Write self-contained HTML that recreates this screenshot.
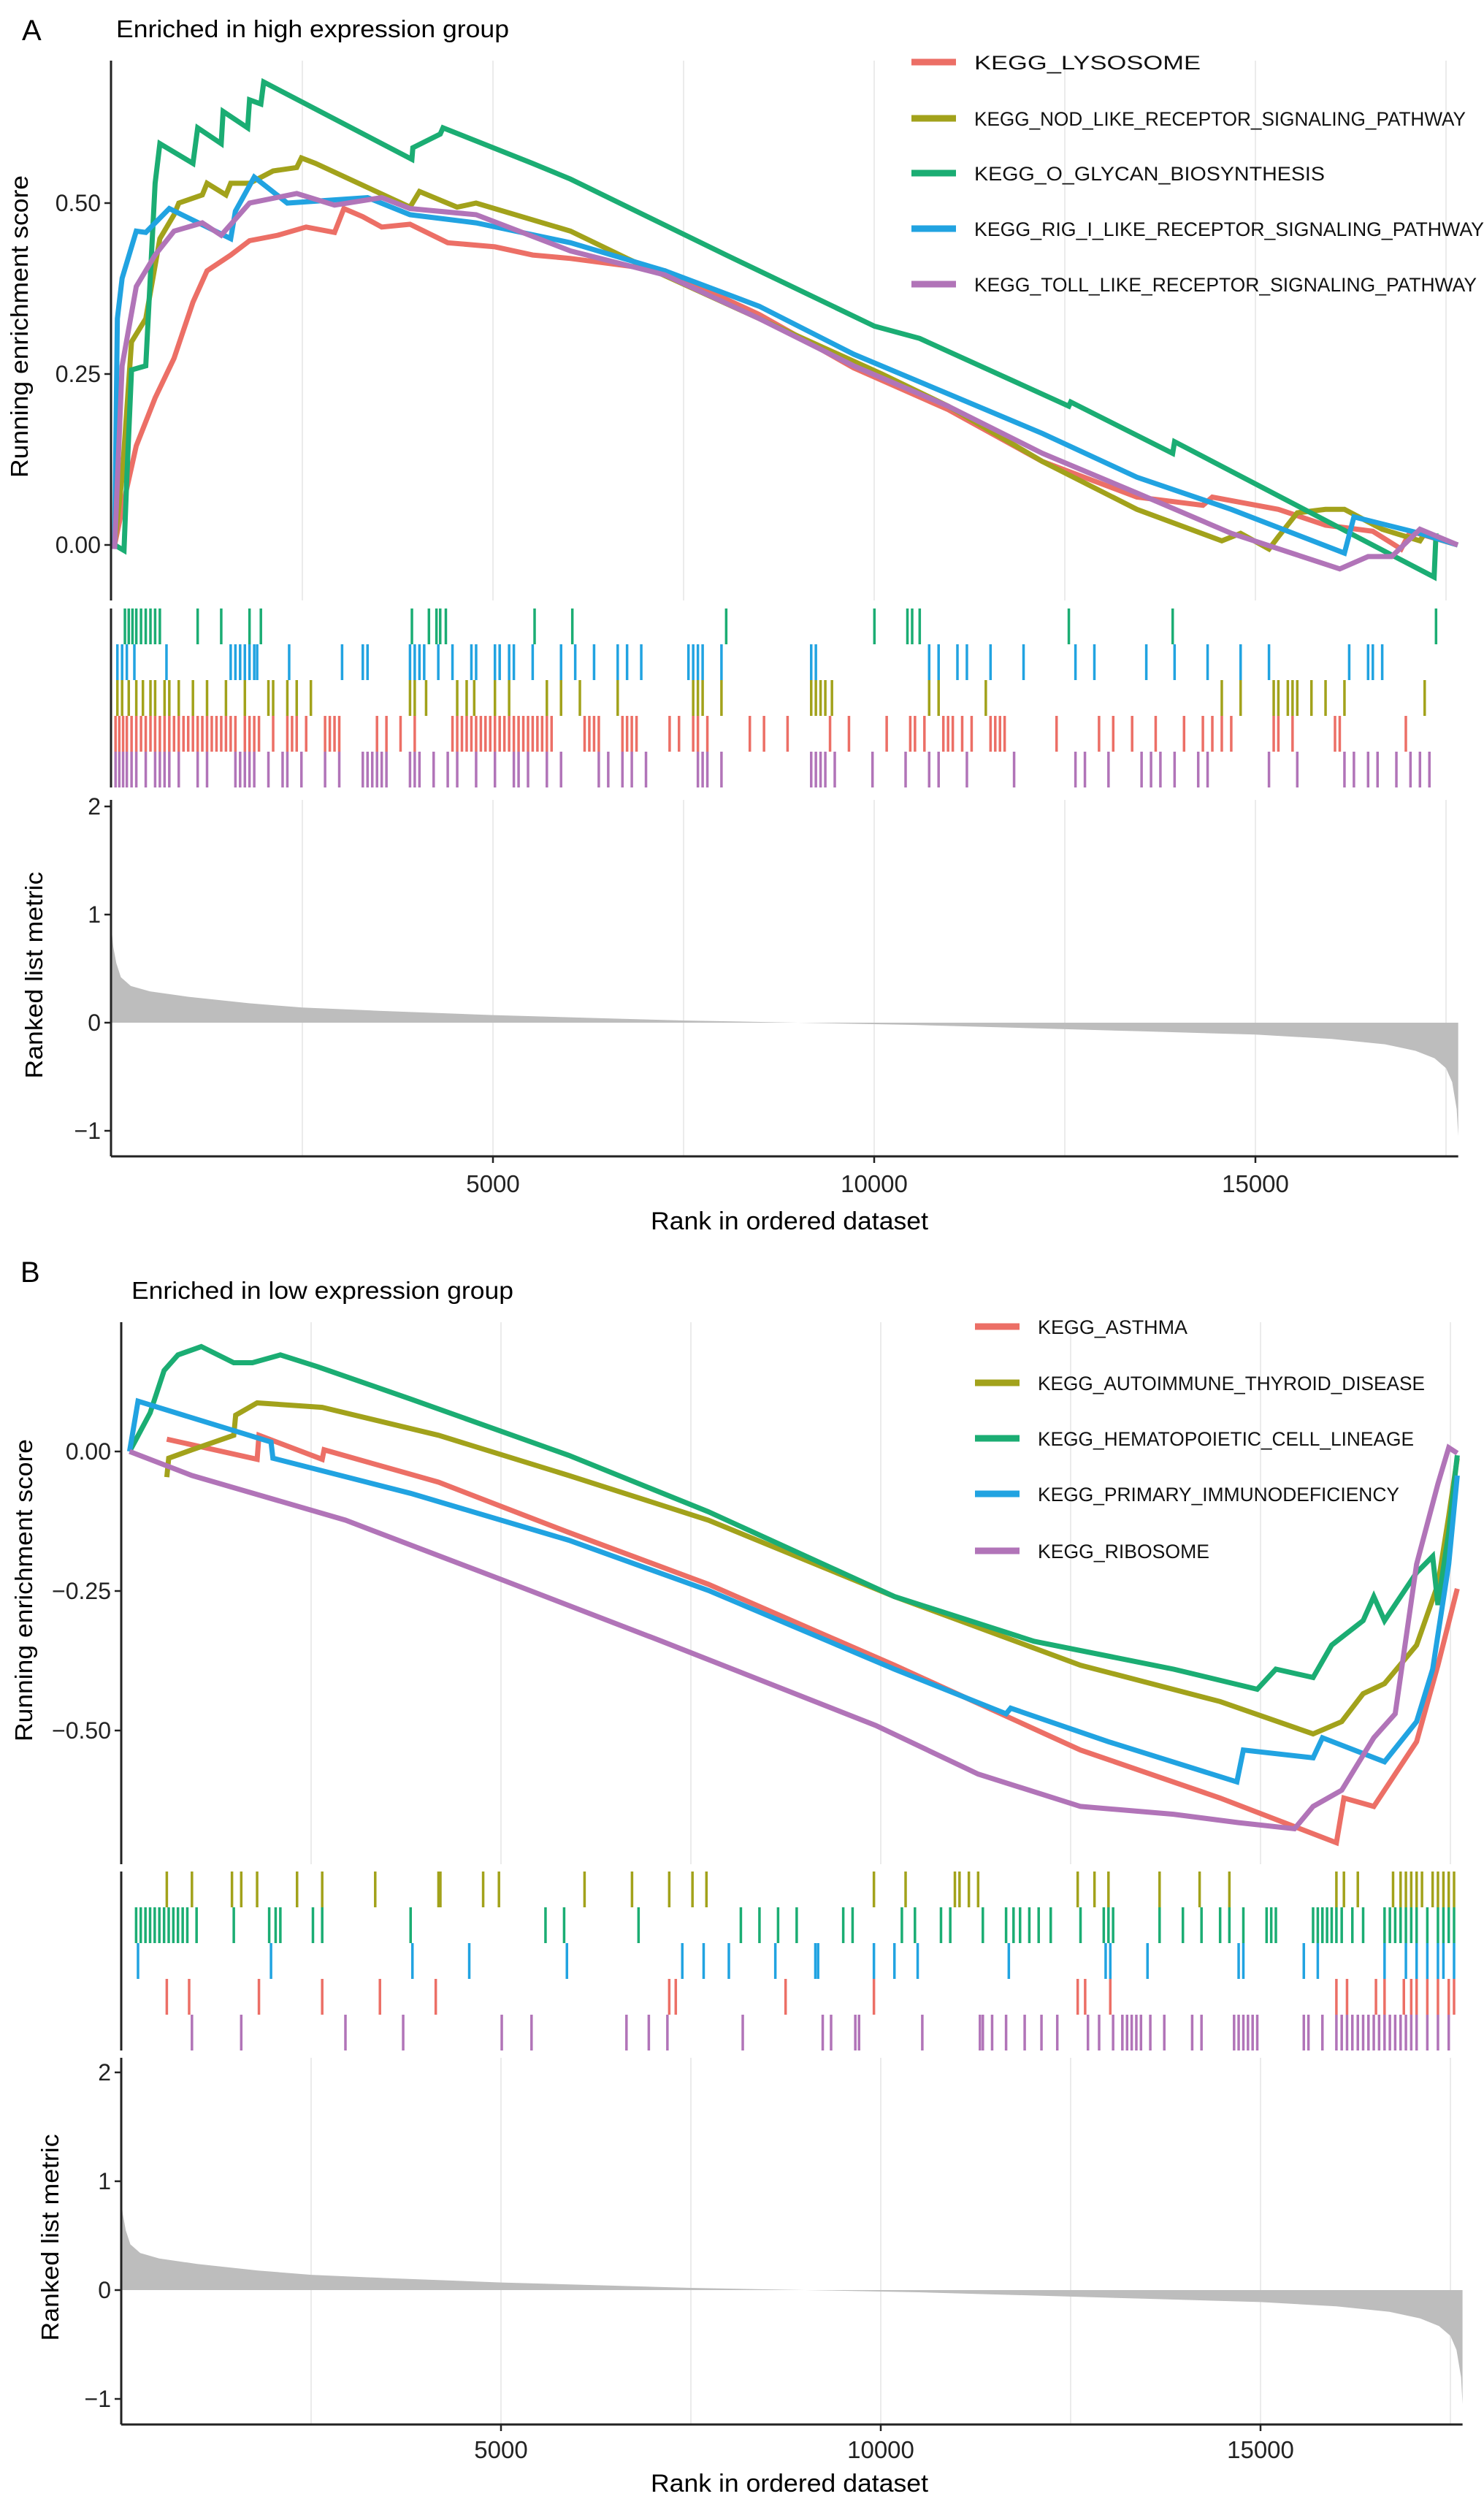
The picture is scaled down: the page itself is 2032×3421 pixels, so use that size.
<!DOCTYPE html>
<html><head><meta charset="utf-8"><title>GSEA enrichment plots</title>
<style>
html,body{margin:0;padding:0;background:#fff;}
svg{display:block;font-family:"Liberation Sans",sans-serif;}
</style></head>
<body>
<svg id="chart" width="2032" height="3421" viewBox="0 0 2032 3421" xmlns="http://www.w3.org/2000/svg"></svg>
<script>
// ---------- Panel A data ----------
const aNames = ["KEGG_LYSOSOME","KEGG_NOD_LIKE_RECEPTOR_SIGNALING_PATHWAY","KEGG_O_GLYCAN_BIOSYNTHESIS","KEGG_RIG_I_LIKE_RECEPTOR_SIGNALING_PATHWAY","KEGG_TOLL_LIKE_RECEPTOR_SIGNALING_PATHWAY"];
const aRedRank = [37,136,322,569,817,1065,1250,1560,1807,2179,2550,2922,3045,3293,3541,3912,4407,5026,5521,6017,7255,8493,9731,10969,12207,13445,14311,14435,15301,15920,16539,16911,17034,17653];
const aRedES = [0,0.052,0.145,0.215,0.273,0.355,0.401,0.424,0.445,0.453,0.465,0.457,0.492,0.480,0.465,0.469,0.442,0.436,0.424,0.419,0.401,0.337,0.259,0.198,0.122,0.070,0.058,0.070,0.052,0.029,0.020,-0.006,0.020,0];
const aOliveRank = [37,136,260,446,631,817,879,1188,1250,1498,1560,1807,2117,2426,2488,2674,3912,4036,4531,4779,6017,6759,8493,10102,10969,12207,13445,14559,14806,15178,15301,15549,15920,16168,16663,17158,17220,17653];
const aOliveES = [0,0.099,0.297,0.331,0.448,0.483,0.500,0.512,0.529,0.512,0.529,0.529,0.547,0.552,0.566,0.558,0.494,0.517,0.494,0.500,0.459,0.419,0.331,0.250,0.203,0.122,0.052,0.006,0.017,-0.006,0.012,0.047,0.052,0.052,0.023,0.006,0.017,0];
const aGreenRank = [37,161,198,260,446,569,631,1065,1127,1436,1461,1783,1807,1956,1993,3937,3949,4308,4345,5521,6017,8059,10003,10597,12553,12578,13915,13940,17344,17369];
const aGreenES = [0,-0.008,0.099,0.256,0.262,0.529,0.587,0.558,0.610,0.587,0.634,0.610,0.651,0.645,0.677,0.564,0.581,0.601,0.610,0.558,0.535,0.424,0.320,0.302,0.203,0.209,0.134,0.151,-0.047,0.017];
const aBlueRank = [37,74,136,322,446,755,1560,1622,1869,2303,3355,3912,4779,6017,7255,8493,9731,10969,12207,13445,14683,16168,16292,17158,17653];
const aBlueES = [-0.006,0.331,0.390,0.459,0.457,0.492,0.448,0.488,0.538,0.500,0.508,0.483,0.471,0.442,0.401,0.349,0.279,0.221,0.163,0.099,0.052,-0.012,0.041,0.017,0];
const aPurpleRank = [37,136,322,569,817,1188,1436,1807,2426,2922,3541,3912,4779,6017,7255,8493,9731,10969,12207,13445,14683,16106,16478,16787,17158,17653];
const aPurpleES = [-0.006,0.262,0.378,0.424,0.459,0.471,0.453,0.500,0.514,0.497,0.508,0.492,0.483,0.430,0.395,0.331,0.262,0.203,0.134,0.076,0.017,-0.035,-0.017,-0.017,0.023,0];
const aGreenHits = [173,223,272,322,384,446,508,569,631,1127,1436,1807,1956,3937,4160,4259,4308,4382,5546,6041,8059,10003,10436,10498,10597,12553,13915,17369];
const aBlueHits = [74,136,198,297,718,1560,1622,1684,1746,1807,1869,1907,2327,3021,3293,3355,3912,3974,4036,4098,4283,4469,4717,4779,5026,5088,5212,5274,5521,5893,6079,6326,6636,6759,6945,7564,7626,7688,7750,7997,9174,9235,10721,10845,11092,11216,11526,11959,12640,12888,13569,13940,14373,14806,15178,16230,16478,16540,16663];
const aOliveHits = [74,136,223,322,409,508,569,693,755,879,1065,1250,1498,1746,2055,2117,2303,2426,2612,3912,3974,4123,4531,4655,4754,5026,5212,5707,5893,6140,6636,7626,7688,7750,7997,9174,9235,9297,9359,9446,10721,10845,11464,14559,14806,15240,15301,15425,15487,15549,15735,15920,16168,17220];
const aRedHits = [50,99,149,198,260,322,384,446,508,569,631,693,755,817,879,941,1003,1065,1127,1188,1250,1312,1374,1436,1498,1560,1622,1746,1807,1869,1931,2117,2303,2365,2426,2550,2798,2860,2922,2984,3479,3603,3788,3974,4469,4531,4593,4655,4717,4779,4841,4902,4964,5026,5088,5150,5212,5274,5336,5398,5460,5521,5583,5645,5707,5769,6202,6264,6326,6388,6698,6759,6821,6883,7317,7440,7626,7688,7812,8369,8555,8864,9421,9669,10164,10473,10535,10659,10907,10969,11031,11154,11278,11526,11588,11650,11711,12392,12949,13135,13383,13692,14064,14311,14435,14559,14683,15240,15301,15487,16044,16106,16973];
const aPurpleHits = [50,99,149,198,260,322,446,569,631,693,755,879,1127,1250,1622,1684,1746,1807,1869,2055,2241,2303,2488,2798,2984,3293,3355,3417,3479,3541,3603,3912,3974,4036,4222,4407,4531,4779,5026,5274,5336,5460,5707,5893,6388,6512,6698,6821,7007,7688,7750,7812,7997,9174,9235,9297,9359,9483,9978,10412,10721,10845,11216,11835,12640,12764,13073,13507,13631,13754,13940,14250,14373,15178,15549,16168,16292,16478,16602,16849,17034,17158,17282];
const metricRank = [0,20,60,120,250,500,1000,1800,2500,3500,5000,6500,7500,9000,10500,12000,13500,15000,16000,16700,17100,17350,17500,17580,17640,17660];
const metricValue = [0.85,0.7,0.55,0.42,0.34,0.29,0.24,0.18,0.14,0.11,0.07,0.04,0.02,0.0,-0.02,-0.05,-0.08,-0.11,-0.15,-0.2,-0.26,-0.33,-0.42,-0.55,-0.8,-1.05];

// ---------- Panel B data ----------
const bNames = ["KEGG_ASTHMA","KEGG_AUTOIMMUNE_THYROID_DISEASE","KEGG_HEMATOPOIETIC_CELL_LINEAGE","KEGG_PRIMARY_IMMUNODEFICIENCY","KEGG_RIBOSOME"];
const bRedRank = [600,931,1789,1813,2646,2671,4177,5892,7730,10180,12630,14467,15999,16098,16491,16773,17055,17336,17590];
const bRedES = [0.022,0.012,-0.014,0.029,-0.014,0.003,-0.055,-0.145,-0.238,-0.383,-0.535,-0.621,-0.701,-0.621,-0.636,-0.578,-0.520,-0.383,-0.246];
const bOliveRank = [600,625,931,1482,1507,1789,2646,4177,5892,7730,10180,12630,14467,15692,16069,16351,16633,17055,17336,17478,17590];
const bOliveES = [-0.046,-0.012,0.003,0.029,0.065,0.087,0.079,0.029,-0.043,-0.123,-0.260,-0.383,-0.448,-0.506,-0.484,-0.434,-0.416,-0.347,-0.238,-0.116,-0.012];
const bGreenRank = [110,196,380,564,747,1054,1482,1727,2095,2585,3810,5892,7730,10180,12017,13855,14957,15202,15692,15937,16351,16491,16633,17055,17266,17336,17478,17590];
const bGreenES = [0,0.022,0.069,0.145,0.173,0.188,0.159,0.159,0.173,0.152,0.094,-0.007,-0.108,-0.260,-0.340,-0.390,-0.426,-0.390,-0.405,-0.347,-0.303,-0.260,-0.303,-0.217,-0.188,-0.275,-0.145,-0.007];
const bBlueRank = [110,221,1972,1997,3810,5892,7730,10180,11650,11711,12997,14688,14774,15692,15815,16633,17055,17266,17478,17590];
const bBlueES = [0,0.090,0.017,-0.012,-0.075,-0.159,-0.249,-0.390,-0.470,-0.460,-0.520,-0.592,-0.535,-0.549,-0.513,-0.556,-0.484,-0.390,-0.202,-0.043];
const bPurpleRank = [110,931,2952,5035,7117,9935,11282,12630,13855,14712,15447,15692,16069,16491,16773,17055,17336,17478,17590];
const bPurpleES = [0,-0.043,-0.123,-0.231,-0.340,-0.491,-0.578,-0.636,-0.650,-0.665,-0.676,-0.636,-0.607,-0.513,-0.470,-0.202,-0.058,0.007,-0.003];
const bOliveHits = [600,931,1458,1580,1789,2315,2646,3344,4177,4202,4765,4973,6100,6725,7215,7521,7705,9910,10327,10976,11037,11160,11282,12593,12814,12998,13671,14198,14590,15999,16098,16281,16745,16844,16914,16984,17055,17126,17266,17336,17408,17478,17548];
const bGreenHits = [196,257,319,380,441,502,564,625,686,747,809,870,992,1482,1948,2033,2095,2524,2646,3810,5586,5831,6811,8158,8403,8648,8893,9506,9629,10278,10450,10793,10915,11344,11650,11748,11834,11956,12079,12238,12630,12936,12998,13059,13671,13978,14223,14468,14590,14774,15080,15141,15202,15692,15754,15815,15876,15937,15999,16069,16209,16351,16633,16703,16773,16844,16914,16984,17055,17196,17336,17408,17478,17548];
const bBlueHits = [221,1972,3834,4582,5868,7387,7668,8000,8612,9139,9175,9910,10180,10486,11686,12961,13022,13512,14712,14774,15570,15754,16633,16914,17055,17196,17336,17408,17548];
const bRedHits = [600,894,1813,2646,3406,4141,7215,7301,8747,9910,12593,12691,13022,15999,16139,16520,16633,16887,16984,17055,17196,17336,17478,17548];
const bPurpleHits = [931,1580,2952,3712,5010,5402,6652,6946,7191,8183,9236,9346,9665,9714,10547,11306,11344,11466,11650,11895,12116,12324,12728,12875,13059,13181,13243,13304,13365,13426,13549,13733,14100,14223,14652,14712,14774,14835,14896,14957,15570,15631,15815,15999,16069,16139,16209,16281,16351,16421,16491,16561,16633,16703,16773,16844,16914,16984,17055,17196,17336,17478];

const xTicks = [5000,10000,15000];
const xTickLabels = ["5000","10000","15000"];
const gridRanks = [2500,5000,7500,10000,12500,15000,17500];
const metricTicks = [2,1,0,-1];
const metricTickLabels = ["2","1","0","\u22121"];
const aESTicks = [0,0.25,0.5];
const aESTickLabels = ["0.00","0.25","0.50"];
const bESTicks = [0,-0.25,-0.5];
const bESTickLabels = ["0.00","\u22120.25","\u22120.50"];

const COLORS = {red:"#EC6F66",olive:"#A2A21B",green:"#1BAD73",blue:"#21A3E1",purple:"#B174B8"};

const NS = "http://www.w3.org/2000/svg";
const svg = document.getElementById('chart');
function mk(tag, attrs, parent){
  const e = document.createElementNS(NS, tag);
  for (const k in attrs) e.setAttribute(k, attrs[k]);
  (parent||svg).appendChild(e);
  return e;
}

function drawPanel(cfg){
  const g = mk('g', {});
  
  
  const X = r => cfg.x0 + r * cfg.k;
  const Y = v => cfg.esZero - v * cfg.esUnit;
  const YM = v => cfg.mZero - v * cfg.mUnit;
  const xEnd = X(17660);

  gridRanks.forEach(r => {
    const l1 = mk('line', {x1:X(r), x2:X(r), y1:cfg.topY, y2:cfg.topB, stroke:'#ebebeb', 'stroke-width':2}, g);
    
    
    const l2 = mk('line', {x1:X(r), x2:X(r), y1:cfg.botY, y2:cfg.botB, stroke:'#ebebeb', 'stroke-width':2}, g);
    
    
  });

  const lt = mk('text', {x:cfg.letterX, y:cfg.letterY, 'font-size':40, fill:'#000'}, g);
  lt.textContent = cfg.letter;
  
  
  const tt = mk('text', {x:cfg.titleX, y:cfg.titleY, 'font-size':33, fill:'#000', textLength:cfg.titleLen, lengthAdjust:'spacingAndGlyphs'}, g);
  tt.textContent = cfg.title;
  
  

  cfg.series.forEach(s => {
    const pts = s.ranks.map((r,i) => X(r).toFixed(1) + ',' + Y(s.es[i]).toFixed(1)).join(' ');
    const pl = mk('polyline', {points:pts, fill:'none', stroke:s.color, 'stroke-width':7, 'stroke-linejoin':'miter'}, g);
    
    
  });

  const ax1 = mk('line', {x1:cfg.axisX, x2:cfg.axisX, y1:cfg.topY, y2:cfg.topB, stroke:'#222', 'stroke-width':3}, g);
  
  
  cfg.esTicks.forEach((v,i) => {
    const tk = mk('line', {x1:cfg.axisX-9, x2:cfg.axisX, y1:Y(v), y2:Y(v), stroke:'#222', 'stroke-width':2.5}, g);
    
    
    const tl = mk('text', {x:cfg.axisX-14, y:Y(v)+11, 'font-size':32, 'text-anchor':'end', fill:'#222'}, g);
    tl.textContent = cfg.esTickLabels[i];
    
    
  });
  const yt = mk('text', {x:0, y:0, 'font-size':33, 'text-anchor':'middle', fill:'#000', transform:`translate(${cfg.esTitleX},${cfg.esTitleY}) rotate(-90)`, textLength:414, lengthAdjust:'spacingAndGlyphs'}, g);
  yt.textContent = 'Running enrichment score';
  
  

  cfg.series.forEach((s,i) => {
    const ly = cfg.legY[i];
    const ll = mk('line', {x1:cfg.legX, x2:cfg.legX+61, y1:ly, y2:ly, stroke:s.color, 'stroke-width':9}, g);
    
    
    const lt2 = mk('text', {x:cfg.legX+86, y:ly+10, 'font-size':27, fill:'#111', textLength:s.legLen, lengthAdjust:'spacingAndGlyphs'}, g);
    lt2.textContent = s.name;
    
    
  });

  const ax2 = mk('line', {x1:cfg.axisX, x2:cfg.axisX, y1:cfg.hitY, y2:cfg.hitY + cfg.hitH*5, stroke:'#222', 'stroke-width':3}, g);
  
  
  cfg.hitRows.forEach((row,ri) => {
    const y1 = cfg.hitY + ri*cfg.hitH, y2 = y1 + cfg.hitH;
    row.hits.forEach(r => {
      const h = mk('line', {x1:X(r), x2:X(r), y1:y1, y2:y2, stroke:row.color, 'stroke-width':3.5}, g);
      
      
    });
  });

  let d = 'M' + X(metricRank[0]).toFixed(1) + ',' + YM(0).toFixed(1);
  metricRank.forEach((r,i) => { d += ' L' + X(r).toFixed(1) + ',' + YM(metricValue[i]).toFixed(1); });
  d += ' L' + X(metricRank[metricRank.length-1]).toFixed(1) + ',' + YM(0).toFixed(1) + ' Z';
  const ar = mk('path', {d:d, fill:'#bdbdbd', stroke:'none'}, g);
  
  

  const ax3 = mk('line', {x1:cfg.axisX, x2:cfg.axisX, y1:cfg.botY, y2:cfg.botB, stroke:'#222', 'stroke-width':3}, g);
  
  
  const ax4 = mk('line', {x1:cfg.axisX, x2:xEnd, y1:cfg.botB, y2:cfg.botB, stroke:'#222', 'stroke-width':3}, g);
  
  
  metricTicks.forEach((v,i) => {
    const tk = mk('line', {x1:cfg.axisX-9, x2:cfg.axisX, y1:YM(v), y2:YM(v), stroke:'#222', 'stroke-width':2.5}, g);
    
    
    const tl = mk('text', {x:cfg.axisX-14, y:YM(v)+11, 'font-size':32, 'text-anchor':'end', fill:'#222'}, g);
    tl.textContent = metricTickLabels[i];
    
    
  });
  xTicks.forEach((r,i) => {
    const tk = mk('line', {x1:X(r), x2:X(r), y1:cfg.botB, y2:cfg.botB+9, stroke:'#222', 'stroke-width':2.5}, g);
    
    
    const tl = mk('text', {x:X(r), y:cfg.botB+cfg.tickLabOff, 'font-size':33, 'text-anchor':'middle', fill:'#222'}, g);
    tl.textContent = xTickLabels[i];
    
    
  });
  const mt = mk('text', {x:0, y:0, 'font-size':33, 'text-anchor':'middle', fill:'#000', transform:`translate(${cfg.mTitleX},${cfg.mTitleY}) rotate(-90)`, textLength:283, lengthAdjust:'spacingAndGlyphs'}, g);
  mt.textContent = 'Ranked list metric';
  
  
  const xt = mk('text', {x:1081, y:cfg.botB+cfg.xTitleOff, 'font-size':34, 'text-anchor':'middle', fill:'#000', textLength:380, lengthAdjust:'spacingAndGlyphs'}, g);
  xt.textContent = 'Rank in ordered dataset';
  
  
}

const legLensA = [310, 673, 480, 698, 688];
drawPanel({
  id:'a', letter:'A', letterX:30, letterY:55, title:'Enriched in high expression group', titleX:159, titleY:51, titleLen:538,
  x0:153, k:0.1044, axisX:152, esZero:746, esUnit:936, topY:83, topB:822,
  mZero:1400, mUnit:148, botY:1095, botB:1583, tickLabOff:49, xTitleOff:100,
  hitY:833, hitH:49,
  esTicks:aESTicks, esTickLabels:aESTickLabels, esTitleX:38, esTitleY:447, mTitleX:58, mTitleY:1335,
  legX:1248, legY:[85,162,237,313,389],
  series:[
    {key:'lysosome', name:aNames[0], color:COLORS.red, ranks:aRedRank, es:aRedES, legLen:legLensA[0]},
    {key:'nod-like', name:aNames[1], color:COLORS.olive, ranks:aOliveRank, es:aOliveES, legLen:legLensA[1]},
    {key:'o-glycan', name:aNames[2], color:COLORS.green, ranks:aGreenRank, es:aGreenES, legLen:legLensA[2]},
    {key:'rig-i-like', name:aNames[3], color:COLORS.blue, ranks:aBlueRank, es:aBlueES, legLen:legLensA[3]},
    {key:'toll-like', name:aNames[4], color:COLORS.purple, ranks:aPurpleRank, es:aPurpleES, legLen:legLensA[4]}
  ],
  hitRows:[
    {key:'o-glycan', color:COLORS.green, hits:aGreenHits},
    {key:'rig-i-like', color:COLORS.blue, hits:aBlueHits},
    {key:'nod-like', color:COLORS.olive, hits:aOliveHits},
    {key:'lysosome', color:COLORS.red, hits:aRedHits},
    {key:'toll-like', color:COLORS.purple, hits:aPurpleHits}
  ]
});

const legLensB = [205, 530, 515, 495, 235];
drawPanel({
  id:'b', letter:'B', letterX:28, letterY:1755, title:'Enriched in low expression group', titleX:180, titleY:1778, titleLen:523,
  x0:166, k:0.1040, axisX:166, esZero:1987, esUnit:764, topY:1810, topB:2552,
  mZero:3135, mUnit:149, botY:2817, botB:3319, tickLabOff:46, xTitleOff:92,
  hitY:2562, hitH:49,
  esTicks:bESTicks, esTickLabels:bESTickLabels, esTitleX:44, esTitleY:2177, mTitleX:80, mTitleY:3063,
  legX:1335, legY:[1816,1893,1969,2045,2123],
  series:[
    {key:'asthma', name:bNames[0], color:COLORS.red, ranks:bRedRank, es:bRedES, legLen:legLensB[0]},
    {key:'autoimmune-thyroid', name:bNames[1], color:COLORS.olive, ranks:bOliveRank, es:bOliveES, legLen:legLensB[1]},
    {key:'hematopoietic', name:bNames[2], color:COLORS.green, ranks:bGreenRank, es:bGreenES, legLen:legLensB[2]},
    {key:'primary-immunodeficiency', name:bNames[3], color:COLORS.blue, ranks:bBlueRank, es:bBlueES, legLen:legLensB[3]},
    {key:'ribosome', name:bNames[4], color:COLORS.purple, ranks:bPurpleRank, es:bPurpleES, legLen:legLensB[4]}
  ],
  hitRows:[
    {key:'autoimmune-thyroid', color:COLORS.olive, hits:bOliveHits},
    {key:'hematopoietic', color:COLORS.green, hits:bGreenHits},
    {key:'primary-immunodeficiency', color:COLORS.blue, hits:bBlueHits},
    {key:'asthma', color:COLORS.red, hits:bRedHits},
    {key:'ribosome', color:COLORS.purple, hits:bPurpleHits}
  ]
});
</script>
</body></html>
